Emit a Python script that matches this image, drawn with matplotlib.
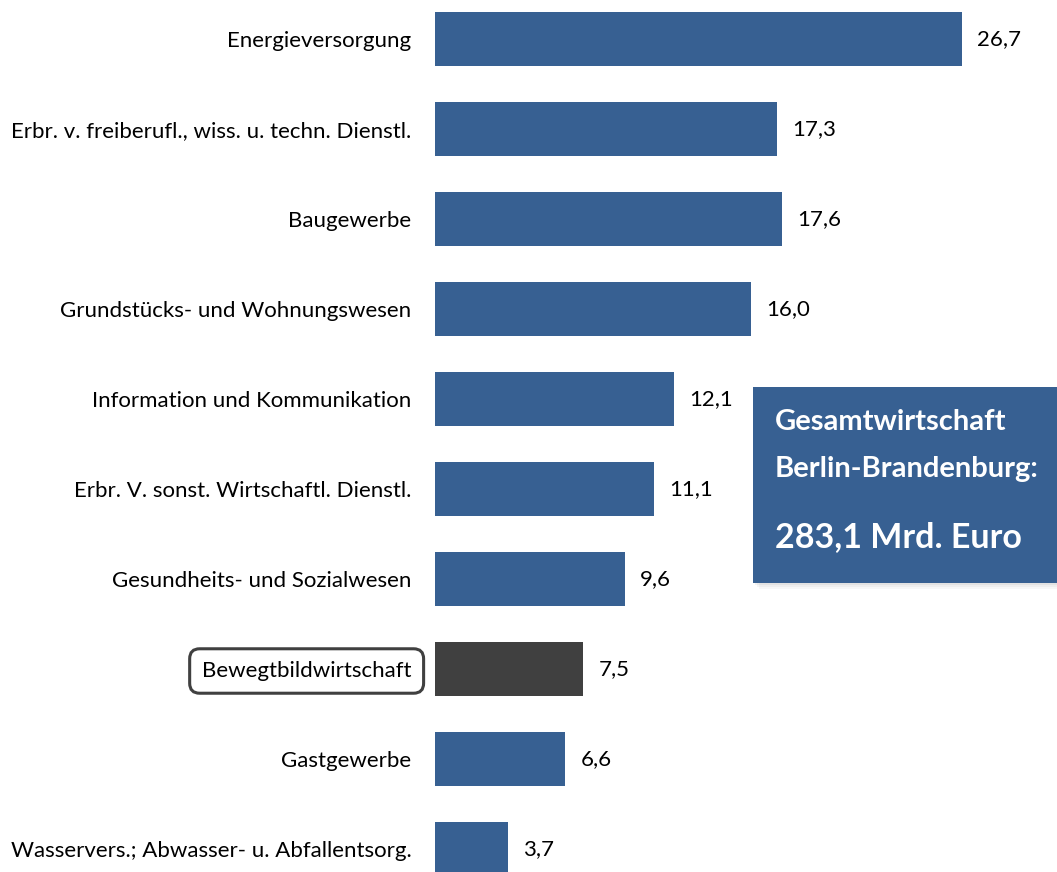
import matplotlib

matplotlib.use("Agg")
import matplotlib.pyplot as plt
from matplotlib.patches import Rectangle

# ------------------------------------------------------------------ data

categories = [
    "Energieversorgung",
    "Erbr. v. freiberufl., wiss. u. techn. Dienstl.",
    "Baugewerbe",
    "Grundstücks- und Wohnungswesen",
    "Information und Kommunikation",
    "Erbr. V. sonst. Wirtschaftl. Dienstl.",
    "Gesundheits- und Sozialwesen",
    "Bewegtbildwirtschaft",
    "Gastgewerbe",
    "Wasservers.; Abwasser- u. Abfallentsorg.",
]
values = [26.7, 17.3, 17.6, 16.0, 12.1, 11.1, 9.6, 7.5, 6.6, 3.7]
highlight = "Bewegtbildwirtschaft"
box_lines = ["Gesamtwirtschaft", "Berlin-Brandenburg:", "283,1 Mrd. Euro"]

BLUE = "#376092"
DARK = "#404040"
FONT = "Lato"

W, H, DPI = 1057, 872, 100

# ------------------------------------------------------------------ plot

fig = plt.figure(figsize=(W / DPI, H / DPI), dpi=DPI)
ax = fig.add_axes([435 / W, 0, 622 / W, 1])

colors = [DARK if c == highlight else BLUE for c in categories]
ypos = list(range(len(categories)))
ax.barh(ypos, values, height=0.59, color=colors)

ax.set_xlim(0, 622 / 19.74)
ax.set_ylim((H - 39) / 90, -39 / 90)

for y, v in zip(ypos, values):
    ax.annotate(f"{v:.1f}".replace(".", ","), xy=(v, y), xytext=(11, 0),
                textcoords="offset points", va="center", ha="left",
                fontsize=16, family=FONT, color="black")

ax.set_yticks(ypos)
ax.set_yticklabels(categories, fontsize=16, family=FONT)
ax.tick_params(axis="y", length=0, pad=17)
ax.set_xticks([])
for s in ax.spines.values():
    s.set_visible(False)

for lab in ax.get_yticklabels():
    if lab.get_text() == highlight:
        lab.set_bbox(dict(boxstyle="round,pad=0.55,rounding_size=0.45",
                          fc="white", ec=DARK, lw=2.2))

# summary box in the right half, cut off at the right edge
x0, y0, bw, bh = 753 / W, 1 - 583 / H, 320 / W, 196 / H
for k, a in enumerate([0.10, 0.08, 0.06]):
    off = (k + 1) * 2
    fig.patches.append(Rectangle((x0 + off / W, y0 - off / H), bw, bh,
                                 transform=fig.transFigure, fc="gray",
                                 ec="none", alpha=a, zorder=4))
fig.patches.append(Rectangle((x0, y0), bw, bh, transform=fig.transFigure,
                             fc=BLUE, ec="none", zorder=5))
fig.text(775 / W, 1 - 430 / H, box_lines[0], color="white", fontsize=21,
         weight="bold", family=FONT, zorder=6)
fig.text(775 / W, 1 - 477 / H, box_lines[1], color="white", fontsize=21,
         weight="bold", family=FONT, zorder=6)
fig.text(775 / W, 1 - 547 / H, box_lines[2], color="white", fontsize=24.5,
         weight="bold", family=FONT, zorder=6)

fig.savefig("out.png", dpi=DPI)
